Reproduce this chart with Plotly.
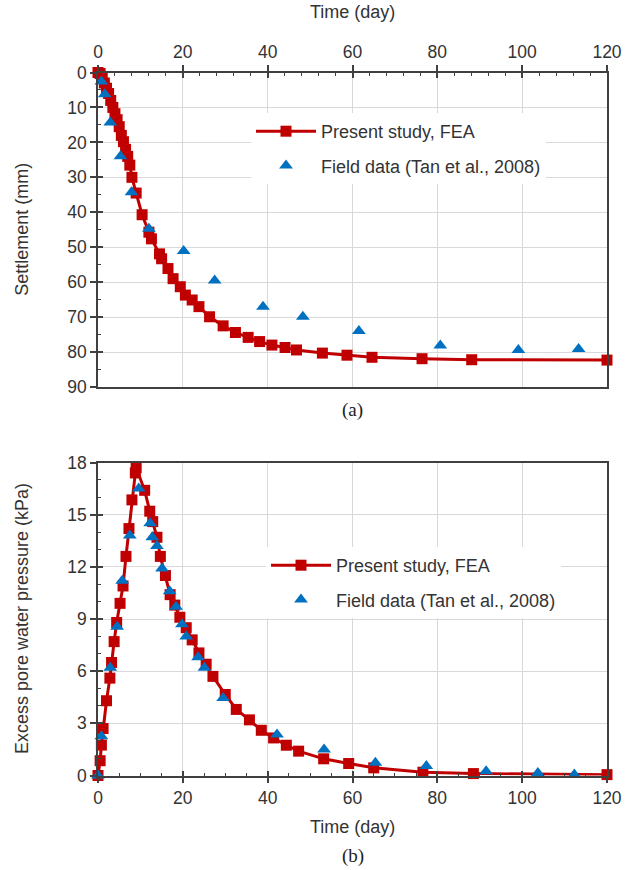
import plotly.graph_objects as go

# ---- (a) Settlement vs time ----
fea_settle_day = [0, 0.5, 1, 1.5, 2, 2.5, 3, 3.5, 4, 4.5, 5, 5.5, 6, 6.5, 7, 7.5, 8,
                  9, 10.4, 12, 12.6, 14.5, 15, 16.5, 17.7, 19.4, 20.6, 22.2, 23.8,
                  26.3, 29.5, 32.4, 35.4, 38.1, 41, 44.1, 46.8, 52.9, 58.7, 64.6,
                  76.4, 88.1, 120]
fea_settle_mm = [0, 0.3, 1.5, 3, 4.5, 6, 8, 10, 11.8, 13.5, 15.5, 18, 19.8, 22, 24,
                 26.5, 30, 34.5, 40.7, 45.7, 47.6, 51.9, 53.3, 56.1, 59.0, 61.3,
                 63.7, 65.1, 67.0, 69.9, 72.5, 74.4, 75.8, 77.0, 78.0, 78.7, 79.4,
                 80.3, 80.9, 81.5, 81.9, 82.2, 82.3]
field_settle_day = [0.8, 1.6, 2.9, 5.3, 7.9, 12.0, 20.2, 27.5, 38.9, 48.3, 61.5,
                    80.7, 99.1, 113.3]
field_settle_mm = [2.6, 6.2, 14.3, 24.0, 34.3, 44.7, 51.1, 59.5, 67.0, 69.9, 74.0,
                   78.1, 79.4, 79.1]

# ---- (b) Excess pore water pressure vs time ----
fea_pwp_day = [0, 0.5, 0.8, 1.2, 2.0, 2.8, 3.2, 3.8, 4.4, 5.2, 5.9, 6.6, 7.3, 8.0,
               8.8, 9.0, 11.0, 12.2, 12.9, 13.9, 14.7, 15.9, 17.0, 18.1, 19.3, 20.8,
               22.2, 23.8, 25.5, 27.1, 30.0, 32.6, 35.7, 38.5, 41.4, 44.4, 47.3,
               53.2, 59.1, 65.0, 76.6, 88.5, 120]
fea_pwp_kpa = [0, 0.85, 1.75, 2.7, 4.3, 5.6, 6.5, 7.7, 8.8, 9.9, 10.9, 12.6, 14.2,
               15.85, 17.4, 17.7, 16.4, 15.2, 14.6, 13.7, 12.6, 11.5, 10.4, 9.8, 9.1,
               8.5, 7.8, 7.05, 6.4, 5.7, 4.66, 3.8, 3.2, 2.6, 2.16, 1.74, 1.4, 0.96,
               0.69, 0.44, 0.19, 0.11, 0.05]
field_pwp_day = [0, 0.8, 2.9, 4.5, 5.7, 7.5, 9.6, 12.3, 12.8, 13.9, 15.1, 16.9, 18.4,
                 19.8, 20.8, 23.6, 25.1, 29.5, 42.2, 53.3, 65.4, 77.4, 91.5, 103.7,
                 112.3]
field_pwp_kpa = [0, 2.26, 6.2, 8.55, 11.2, 13.8, 16.5, 14.5, 13.7, 13.2, 11.9, 10.6,
                 9.7, 8.7, 8.0, 6.8, 6.2, 4.46, 2.36, 1.49, 0.73, 0.54, 0.25, 0.15,
                 0.06]

RED = "#C00000"
BLUE = "#0070C0"
AXIS = "#404040"
GRID = "#D9D9D9"
FONT = "Liberation Sans, Arial, sans-serif"
TICKFONT = dict(family=FONT, size=17.5, color="#333333")
LEGFONT = dict(family=FONT, size=18, color="#333333")

XDOM = [98 / 634, 607 / 634]
YDOM_A = [1 - 387 / 870, 1 - 72.5 / 870]
YDOM_B = [1 - 775.5 / 870, 1 - 462.5 / 870]

fig = go.Figure()

# panel (a)
fig.add_trace(go.Scatter(
    x=fea_settle_day, y=fea_settle_mm, mode="lines+markers",
    name="Present study, FEA", line=dict(color=RED, width=3),
    marker=dict(symbol="square", size=11, color=RED),
    xaxis="x", yaxis="y", legend="legend", legendgroup="a1", cliponaxis=False))
fig.add_trace(go.Scatter(
    x=field_settle_day, y=field_settle_mm, mode="markers",
    name="Field data (Tan et al., 2008)",
    marker=dict(symbol="triangle-up", size=12, color=BLUE),
    xaxis="x", yaxis="y", legend="legend", legendgroup="a2", cliponaxis=False))

# panel (b)
fig.add_trace(go.Scatter(
    x=fea_pwp_day, y=fea_pwp_kpa, mode="lines+markers",
    name="Present study, FEA", line=dict(color=RED, width=3),
    marker=dict(symbol="square", size=11, color=RED),
    xaxis="x2", yaxis="y2", legend="legend2", legendgroup="b1", cliponaxis=False))
fig.add_trace(go.Scatter(
    x=field_pwp_day, y=field_pwp_kpa, mode="markers",
    name="Field data (Tan et al., 2008)",
    marker=dict(symbol="triangle-up", size=12, color=BLUE),
    xaxis="x2", yaxis="y2", legend="legend2", legendgroup="b2", cliponaxis=False))

# empty traces so the inner-tick overlay axes get drawn
for xa, ya in [("x3", "y"), ("x", "y3"), ("x4", "y2"), ("x2", "y4")]:
    fig.add_trace(go.Scatter(x=[], y=[], xaxis=xa, yaxis=ya, showlegend=False,
                             hoverinfo="skip"))


def main_axis(**kw):
    d = dict(showline=True, linecolor=AXIS, linewidth=1.5, mirror=True,
             ticks="outside", ticklen=6, tickwidth=1.5, tickcolor=AXIS,
             showgrid=True, gridcolor=GRID, gridwidth=1, zeroline=False,
             tickfont=TICKFONT, automargin=False, fixedrange=True)
    d.update(kw)
    return d


def inner_axis(**kw):
    d = dict(showline=False, showgrid=False, zeroline=False, showticklabels=False,
             ticks="inside", ticklen=5, tickwidth=1.5, tickcolor=AXIS,
             automargin=False, fixedrange=True)
    d.update(kw)
    return d


def legend_box(x_px, y_px):
    return dict(x=x_px / 634, y=1 - y_px / 870, xanchor="left", yanchor="top",
                bgcolor="white", borderwidth=0, traceorder="grouped",
                tracegroupgap=8, itemwidth=60, font=LEGFONT)


fig.update_layout(
    width=634, height=870,
    margin=dict(l=0, r=0, t=0, b=0),
    paper_bgcolor="white", plot_bgcolor="white",
    font=dict(family=FONT, color="#333333"),
    xaxis=main_axis(domain=XDOM, anchor="y", side="top", range=[0, 120],
                    tick0=0, dtick=20),
    yaxis=main_axis(domain=YDOM_A, anchor="x", range=[90, 0], tick0=0, dtick=10),
    xaxis3=inner_axis(overlaying="x", anchor="y", side="top", range=[0, 120],
                      tick0=0, dtick=20,
                      minor=dict(ticks="inside", dtick=4, tick0=0, ticklen=3,
                                 tickwidth=1.2, tickcolor=AXIS, showgrid=False)),
    yaxis3=inner_axis(overlaying="y", anchor="x", range=[90, 0], tick0=0, dtick=10,
                      minor=dict(ticks="inside", dtick=5, tick0=0, ticklen=3,
                                 tickwidth=1.2, tickcolor=AXIS, showgrid=False)),
    xaxis2=main_axis(domain=XDOM, anchor="y2", side="bottom", range=[0, 120],
                     tick0=0, dtick=20),
    yaxis2=main_axis(domain=YDOM_B, anchor="x2", range=[0, 18], tick0=0, dtick=3),
    xaxis4=inner_axis(overlaying="x2", anchor="y2", side="bottom", range=[0, 120],
                      tick0=0, dtick=20,
                      minor=dict(ticks="inside", dtick=5, tick0=0, ticklen=3,
                                 tickwidth=1.2, tickcolor=AXIS, showgrid=False)),
    yaxis4=inner_axis(overlaying="y2", anchor="x2", range=[0, 18], tick0=0, dtick=3,
                      minor=dict(ticks="inside", dtick=1, tick0=0, ticklen=3,
                                 tickwidth=1.2, tickcolor=AXIS, showgrid=False)),
    legend=legend_box(251, 113),
    legend2=legend_box(266, 547),
    showlegend=True,
)

title_font = dict(family=FONT, size=18, color="#333333")
serif_font = dict(family="Liberation Serif, Times New Roman, serif", size=19,
                  color="#222222")
xmid = (XDOM[0] + XDOM[1]) / 2
annotations = [
    dict(text="Time (day)", x=xmid, y=1 - 12 / 870, font=title_font),
    dict(text="Time (day)", x=xmid, y=1 - 827 / 870, font=title_font),
    dict(text="(a)", x=xmid, y=1 - 410 / 870, font=serif_font),
    dict(text="(b)", x=xmid, y=1 - 856 / 870, font=serif_font),
    dict(text="Settlement (mm)", x=22 / 634, y=(YDOM_A[0] + YDOM_A[1]) / 2,
         textangle=-90, font=title_font),
    dict(text="Excess pore water pressure (kPa)", x=22 / 634,
         y=(YDOM_B[0] + YDOM_B[1]) / 2, textangle=-90, font=title_font),
]
for a in annotations:
    a.update(xref="paper", yref="paper", showarrow=False, xanchor="center",
             yanchor="middle")
fig.update_layout(annotations=annotations)

fig.write_html("out.html")
